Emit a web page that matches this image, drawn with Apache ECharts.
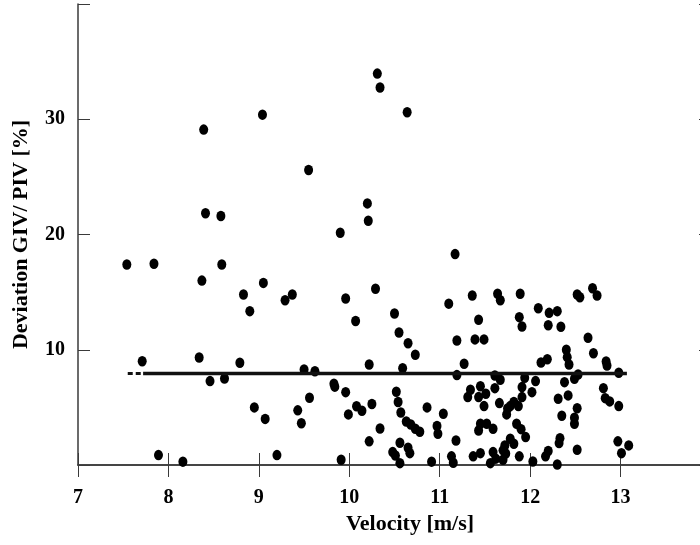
<!DOCTYPE html>
<html>
<head>
<meta charset="utf-8">
<title>Deviation GIV/PIV</title>
<script src="https://cdn.jsdelivr.net/npm/echarts@6/dist/echarts.min.js"></script>
<style>
  html, body { margin: 0; padding: 0; background: #fff; }
  #chart { width: 700px; height: 545px; }
</style>
</head>
<body>
<div id="chart"></div>
<script>
let velocity = [
  9.04, 8.39, 8.41, 8.58, 10.31, 10.34, 10.64, 9.55, 10.20, 10.21,
  9.90, 11.17, 7.54, 7.84, 8.59, 8.37, 9.05, 8.83, 8.90, 7.71,
  8.34, 8.79, 8.46, 8.62, 8.95, 9.07, 7.89, 8.16, 9.20, 9.29,
  9.37, 9.96, 10.29, 10.07, 10.50, 10.55, 10.65, 10.73, 11.10, 11.19,
  9.50, 9.62, 10.22, 10.59, 11.19, 9.83, 9.84, 9.96, 9.56, 9.43,
  9.47, 10.08, 10.14, 9.99, 10.25, 10.34, 10.22, 10.52, 10.54, 10.57,
  10.63, 10.68, 10.73, 10.78, 10.56, 10.48, 10.51, 10.65, 10.67, 10.56,
  9.91, 10.86, 11.04, 10.97, 10.98, 11.18, 10.91, 11.13, 11.15, 11.36,
  11.64, 11.67, 11.89, 12.09, 12.21, 12.30, 12.20, 12.34, 12.52, 12.55,
  12.69, 12.74, 11.43, 11.88, 11.91, 11.39, 11.49, 12.64, 12.70, 12.40,
  12.41, 12.43, 12.12, 12.19, 12.84, 12.85, 11.27, 12.98, 11.61, 11.67,
  11.94, 12.06, 12.38, 12.49, 12.53, 11.45, 11.34, 11.61, 11.91, 12.02,
  11.91, 11.31, 11.43, 11.51, 11.49, 11.66, 11.78, 11.87, 11.82, 11.74,
  12.31, 12.42, 12.52, 12.81, 12.83, 12.88, 12.98, 12.35, 12.49, 12.49,
  11.45, 11.52, 11.59, 11.43, 11.85, 11.90, 11.95, 11.78, 11.82, 11.72,
  11.70, 11.59, 11.45, 11.37, 11.62, 11.70, 11.56, 11.88, 12.03, 12.33,
  12.32, 12.52, 12.20, 12.17, 12.30, 12.97, 13.09, 13.01, 11.75, 11.73
];
let deviation = [
  30.4, 29.1, 21.85, 21.6, 33.96, 32.75, 30.6, 25.6, 22.7, 21.2,
  20.15, 18.3, 17.4, 17.46, 17.4, 16.0, 15.8, 14.8, 13.35, 9.0,
  9.33, 8.87, 7.28, 7.5, 5.0, 4.0, 0.86, 0.29, 0.86, 14.3,
  14.8, 14.45, 15.3, 12.5, 13.15, 11.5, 10.57, 9.57, 14.0, 10.8,
  8.29, 8.14, 8.72, 8.4, 7.8, 7.05, 6.8, 6.32, 5.84, 4.74,
  3.63, 5.1, 4.7, 4.39, 5.3, 3.17, 2.05, 6.36, 5.46, 4.56,
  3.78, 3.52, 3.15, 2.89, 1.93, 1.12, 0.83, 1.5, 1.03, 0.16,
  0.46, 5.0, 4.45, 3.38, 2.71, 2.13, 0.29, 0.75, 0.2, 14.7,
  14.86, 14.3, 14.86, 13.6, 13.2, 13.35, 12.13, 12.0, 14.8, 14.55,
  15.34, 14.71, 12.6, 12.83, 12.02, 10.9, 10.9, 11.04, 9.7, 10.0,
  9.36, 8.72, 8.9, 9.18, 8.98, 8.64, 8.79, 8.0, 7.77, 7.4,
  7.57, 7.28, 7.19, 7.49, 7.86, 6.84, 6.53, 6.67, 6.76, 6.32,
  5.89, 5.89, 5.89, 6.18, 5.11, 5.37, 5.11, 5.11, 5.46, 4.39,
  5.75, 6.04, 4.93, 6.67, 5.8, 5.52, 5.11, 4.28, 4.1, 3.58,
  3.58, 3.58, 3.15, 3.0, 3.58, 3.11, 2.42, 2.28, 1.85, 1.7,
  1.27, 1.12, 1.03, 0.75, 0.55, 0.46, 0.16, 0.75, 0.31, 2.33,
  1.9, 1.33, 1.21, 0.75, 0.05, 2.05, 1.7, 1.03, 4.9, 1.0
];

// mean deviation line, drawn with a short dashed lead-in
let meanX = [7.72, 13.07];
let meanY = [7.93, 7.93];
let meanLeadX = [7.55, 7.72];
let meanLeadY = [7.93, 7.93];

let xTicks = [7, 8, 9, 10, 11, 12, 13];
let yTicks = [10, 20, 30];

let serif = '"Liberation Serif", "Times New Roman", serif';
let axisColor = '#3a3a3a';

let points = velocity.map((v, i) => [v, deviation[i]]);
let meanLine = meanX.map((v, i) => [v, meanY[i]]);
let meanLead = meanLeadX.map((v, i) => [v, meanLeadY[i]]);

let tickStyle = { inside: true, length: 12, lineStyle: { color: axisColor, width: 1 } };
let lineStyle = { lineStyle: { color: axisColor, width: 1.5 } };

let chart = echarts.init(document.getElementById('chart'), null, { renderer: 'canvas' });

// the frame runs to x = 14, a little past the right edge of the picture
chart.setOption({
  animation: false,
  backgroundColor: '#fff',
  grid: { left: 78, top: 4, width: 633, height: 461, outerBoundsMode: 'none', containLabel: false },
  xAxis: [
    {
      type: 'value', min: 7, max: 14, interval: 1, position: 'bottom',
      axisLine: lineStyle, axisTick: tickStyle, splitLine: { show: false },
      axisLabel: {
        margin: 23, color: '#000', fontSize: 20, fontWeight: 'bold', fontFamily: serif,
        formatter: (v) => xTicks.indexOf(v) >= 0 ? String(v) : ''
      },
      name: 'Velocity [m/s]', nameLocation: 'middle', nameGap: 46,
      nameTextStyle: { color: '#000', fontSize: 22, fontWeight: 'bold', fontFamily: serif, padding: [0, 0, 0, 31] }
    },
    {
      type: 'value', min: 7, max: 14, interval: 1, position: 'top',
      axisLine: lineStyle, axisTick: tickStyle, splitLine: { show: false },
      axisLabel: { show: false }
    }
  ],
  yAxis: [
    {
      type: 'value', min: 0, max: 40, interval: 10, position: 'left',
      axisLine: lineStyle, axisTick: tickStyle, splitLine: { show: false },
      axisLabel: {
        margin: 13, color: '#000', fontSize: 20, fontWeight: 'bold', fontFamily: serif,
        formatter: (v) => yTicks.indexOf(v) >= 0 ? String(v) : ''
      },
      name: 'Deviation GIV/ PIV [%]', nameLocation: 'middle', nameGap: 46,
      nameTextStyle: { color: '#000', fontSize: 22, fontWeight: 'bold', fontFamily: serif }
    },
    {
      type: 'value', min: 0, max: 40, interval: 10, position: 'right',
      axisLine: lineStyle, axisTick: tickStyle, splitLine: { show: false },
      axisLabel: { show: false }
    }
  ],
  series: [
    {
      type: 'line', data: meanLead, symbol: 'none', silent: true,
      lineStyle: { color: '#111', width: 3, type: [5, 3] }
    },
    {
      type: 'line', data: meanLine, symbol: 'none', silent: true,
      lineStyle: { color: '#111', width: 3.5 }
    },
    {
      type: 'scatter', data: points, symbol: 'circle', symbolSize: [9, 10.5],
      itemStyle: { color: '#000', opacity: 1 }
    }
  ]
});
</script>
</body>
</html>
